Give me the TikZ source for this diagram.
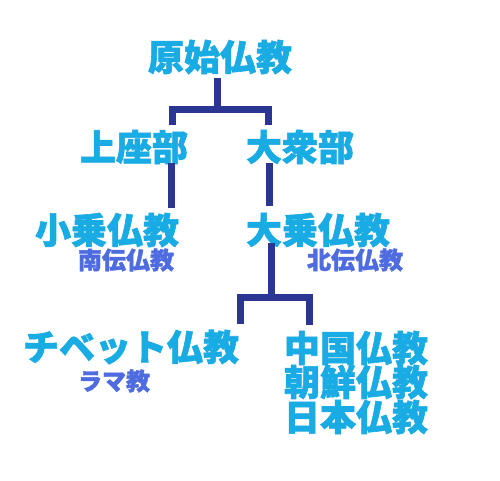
\documentclass[tikz,border=0pt]{standalone}
\usepackage{fontspec}
\newfontfamily\cjk{Noto Sans CJK JP}[BoldFeatures={FakeBold=1.6}]
\definecolor{mainc}{HTML}{19ACE4}
\definecolor{subc}{HTML}{4E6CE0}
\definecolor{linec}{HTML}{2B3592}
\tikzset{
  big/.style={inner sep=0pt, text=mainc, font=\cjk\bfseries\fontsize{36}{36}\selectfont},
  small/.style={inner sep=0pt, text=subc, font=\cjk\bfseries\fontsize{24}{24}\selectfont},
  branch/.style={draw=linec, line width=7pt, line join=miter, line cap=butt}
}
\begin{document}
\begin{tikzpicture}[x=1pt,y=-1pt]
\useasboundingbox[fill=white] (0,0) rectangle (500,480);
% nodes
\node[big] (root) at (220,57) {原始仏教};
\node[big] (jo) at (134,147) {上座部};
\node[big] (dai) at (300,147) {大衆部};
\node[big] (sho) at (107,230) {小乗仏教};
\node[big] (daij) at (318,230) {大乗仏教};
\node[small] (nan) at (126,260) {南伝仏教};
\node[small] (hoku) at (355,260) {北伝仏教};
\node[big] (tib) at (131,347) {チベット仏教};
\node[small] (rama) at (114,381) {ラマ教};
\node[big] (china) at (356,348) {中国仏教};
\node[big] (chosen) at (356,382) {朝鮮仏教};
\node[big] (nihon) at (356,417) {日本仏教};
% connector coordinates
\coordinate (rootb) at (217,78);
\coordinate (rootj) at (217,109.5);
\coordinate (joT) at (172,125);
\coordinate (daiT) at (268,125);
\coordinate (joB) at (171,163);
\coordinate (shoT) at (171,208);
\coordinate (daiB) at (269,163);
\coordinate (daijT) at (269,206);
\coordinate (daijB) at (271,243);
\coordinate (daijJ) at (271,297.5);
\coordinate (tibT) at (240,324);
\coordinate (chinaT) at (309,325);
% connectors
\draw[branch] (rootb) -- (rootj);
\draw[branch] (joT) |- (rootj) -| (daiT);
\draw[branch] (joB) -- (shoT);
\draw[branch] (daiB) -- (daijT);
\draw[branch] (daijB) -- (daijJ);
\draw[branch] (tibT) |- (daijJ) -| (chinaT);
\end{tikzpicture}
\end{document}
